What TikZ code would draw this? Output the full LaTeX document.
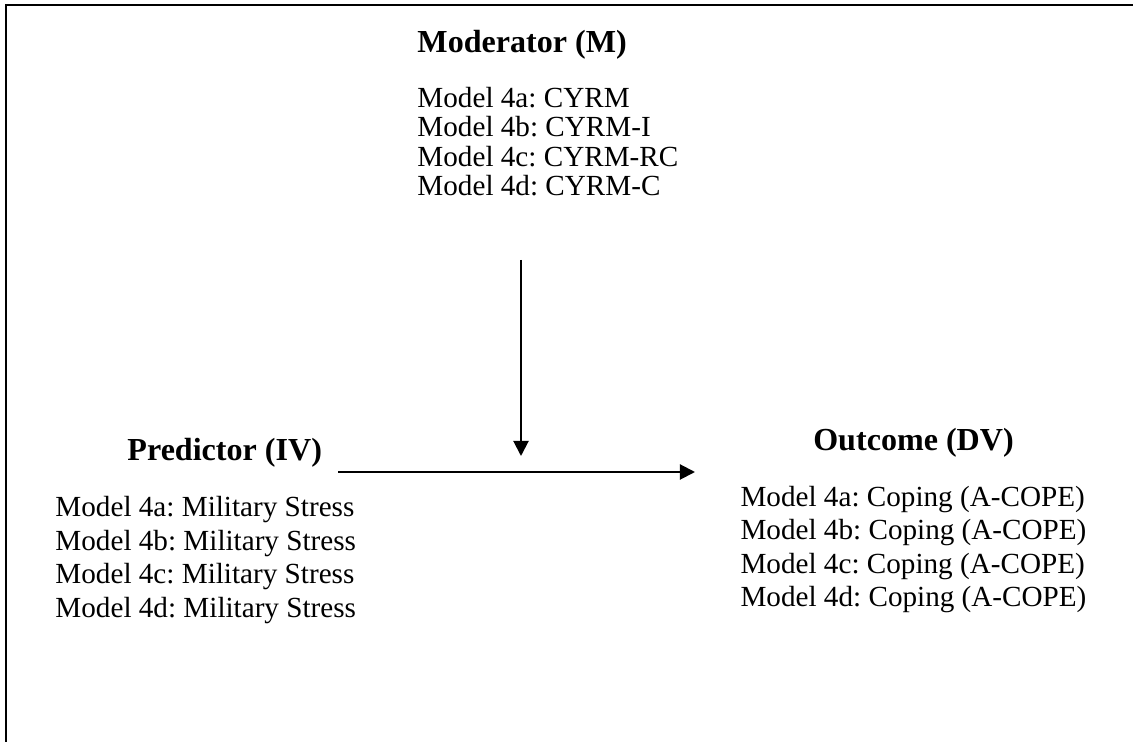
\documentclass[tikz,border=0pt]{standalone}
\usepackage{fontspec}
\setmainfont{Liberation Serif}
\usetikzlibrary{arrows.meta, positioning}

\begin{document}
\frenchspacing
\begin{tikzpicture}[
  x=0.4115pt, y=-0.4115pt,
  head/.style={inner sep=0pt, font=\fontsize{13.2pt}{15pt}\selectfont\bfseries},
  modlist/.style={inner sep=0pt, align=left, font=\fontsize{12pt}{12.14pt}\selectfont},
  varlist/.style={inner sep=0pt, align=left, font=\fontsize{12pt}{13.79pt}\selectfont},
  arrow/.style={-{Triangle[length=6.2pt, width=6.2pt]}, line width=0.82pt},
  frame/.style={line width=0.9pt}
]
\useasboundingbox (0,0) rectangle (1133,742);
\draw[frame] (6,742) -- (6,5) -- (1133,5);

\node[head, anchor=base west] (modhead) at (417,53) {Moderator (M)};
\node[modlist, below=10.8pt of modhead.south west, anchor=north west] (modlist) {Model 4a: CYRM\\ Model 4b: CYRM-I\\ Model 4c: CYRM-RC\\ Model 4d: CYRM-C};

\node[head, anchor=base west] (predhead) at (127,461) {Predictor (IV)};
\node[varlist, anchor=north west] (predlist) at (55,496) {Model 4a: Military Stress\\ Model 4b: Military Stress\\ Model 4c: Military Stress\\ Model 4d: Military Stress};

\node[varlist, anchor=north] (outlist) at (913.5,485.5) {Model 4a: Coping (A-COPE)\\ Model 4b: Coping (A-COPE)\\ Model 4c: Coping (A-COPE)\\ Model 4d: Coping (A-COPE)};
\node[head, above=11.4pt of outlist] (outhead) {Outcome (DV)};

\coordinate (ivend) at (338,472);
\coordinate (dvend) at (695,472);
\coordinate (modend) at (521,260);
\coordinate (pathpt) at (521,456);
\draw[arrow] (ivend) -- (dvend);
\draw[arrow] (modend) -- (pathpt);
\end{tikzpicture}
\end{document}
